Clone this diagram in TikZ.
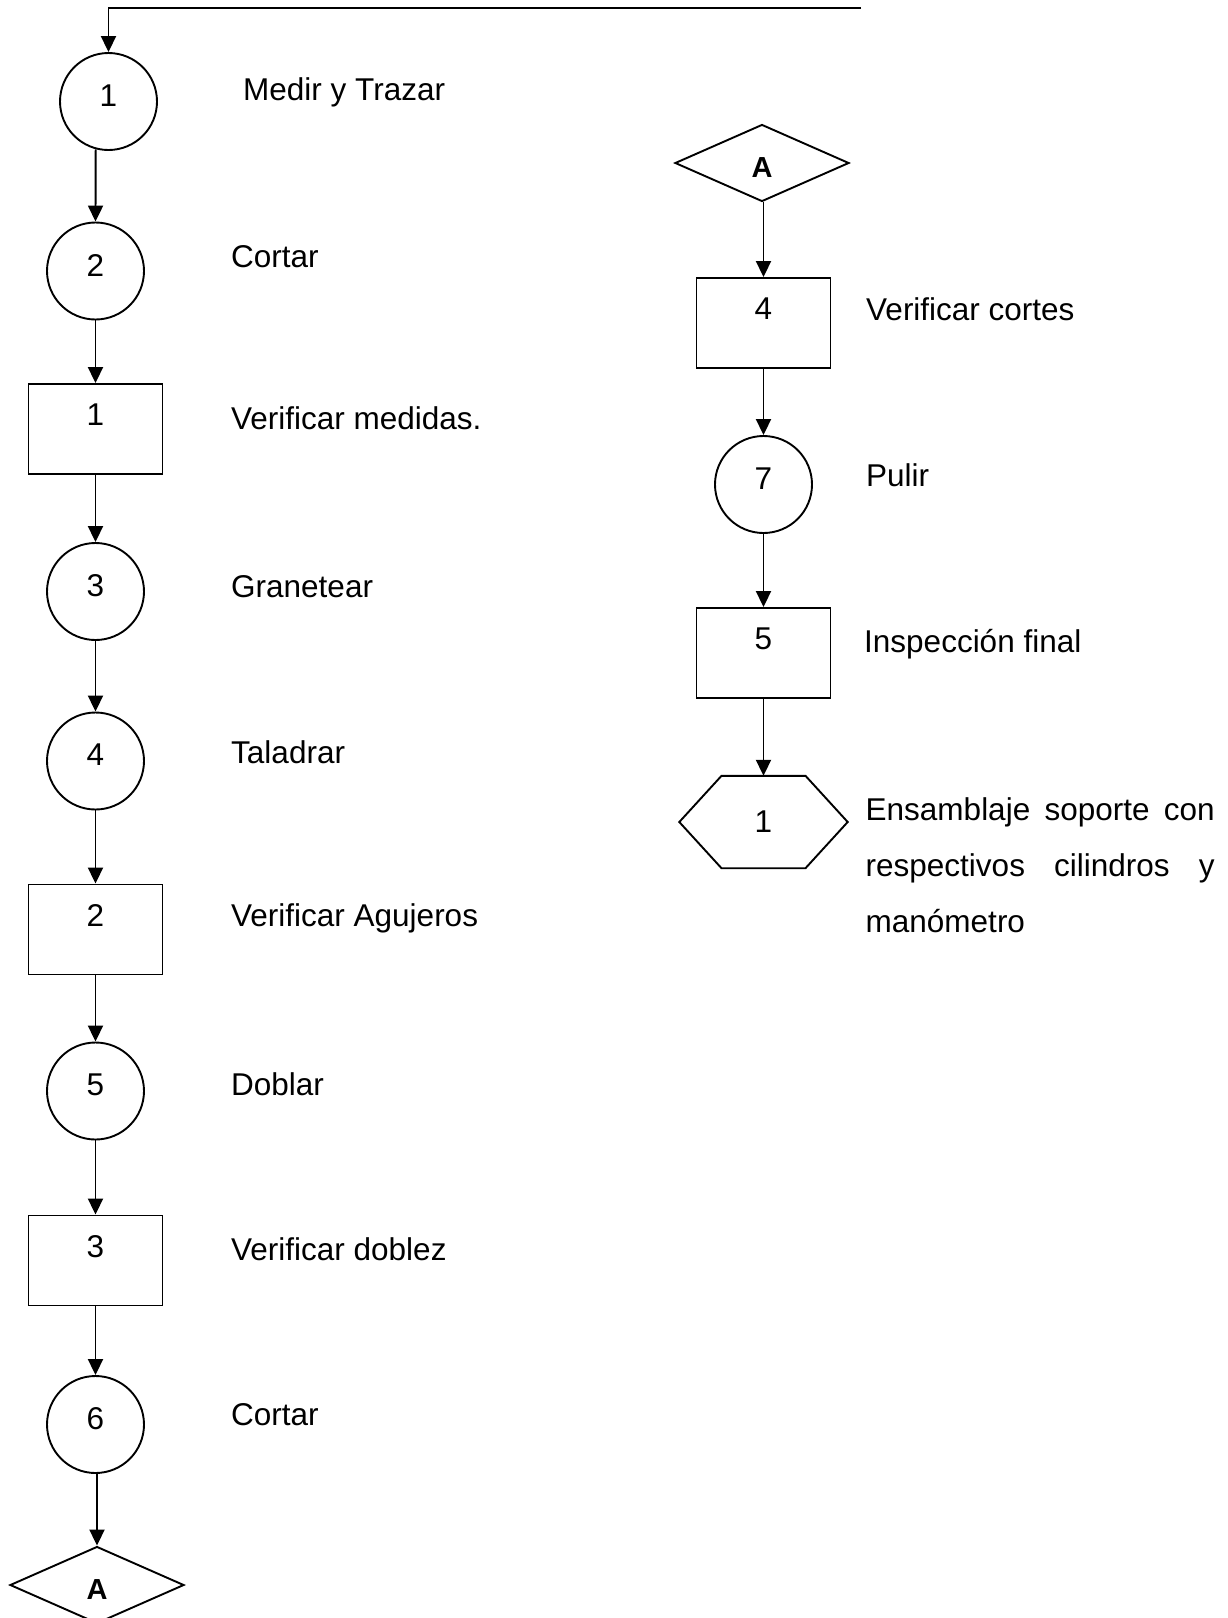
\documentclass[tikz,border=0pt]{standalone}
\usepackage{fontspec}
\setmainfont{Liberation Sans}
\usetikzlibrary{arrows.meta,shapes.geometric}
\begin{document}
\begin{tikzpicture}[x=1pt,y=-1pt,
  every node/.style={font=\fontsize{31.5pt}{38pt}\selectfont},
  ln/.style={line width=1.9pt},
  arr/.style={ln,-{Triangle[length=16pt,width=15pt]}},
  opc/.style={circle,draw,ln,minimum size=97pt,inner sep=0pt},
  insp/.style={rectangle,draw,ln,minimum width=134pt,minimum height=90pt,inner sep=0pt},
  conn/.style={diamond,draw,ln,minimum width=174pt,minimum height=77pt,inner sep=0pt},
  hexa/.style={minimum width=168pt,minimum height=92pt,inner sep=0pt},
  cnum/.style={anchor=center,yshift=6pt,inner sep=0pt},
  rnum/.style={anchor=center,yshift=14pt,inner sep=0pt},
  anum/.style={anchor=center,yshift=-5pt,inner sep=0pt,font=\fontsize{29pt}{34pt}\selectfont\bfseries},
  lbl/.style={anchor=base west,inner sep=0pt},
]
\useasboundingbox (0,0) rectangle (1227,1618);

% left column
\node[opc,label={[cnum]center:1}] (C1) at (108.5,101.5) {};
\node[opc,label={[cnum]center:2}] (C2) at (95.5,271) {};
\node[insp,label={[rnum]center:1}] (R1) at (95.5,429) {};
\node[opc,label={[cnum]center:3}] (C3) at (95.5,591.5) {};
\node[opc,label={[cnum]center:4}] (C4) at (95.5,761) {};
\node[insp,label={[rnum]center:2}] (R2) at (95.5,929.5) {};
\node[opc,label={[cnum]center:5}] (C5) at (95.5,1091) {};
\node[insp,label={[rnum]center:3}] (R3) at (95.5,1260.5) {};
\node[opc,label={[cnum]center:6}] (C6) at (95.5,1424.5) {};
\node[conn,label={[anum]center:A}] (DA2) at (97,1585) {};

% right column
\node[conn,label={[anum]center:A}] (DA1) at (762,163) {};
\node[insp,label={[rnum]center:4}] (R4) at (763.5,323) {};
\node[opc,label={[cnum]center:7}] (C7) at (763.5,484.5) {};
\node[insp,label={[rnum]center:5}] (R5) at (763.5,653) {};
\node[hexa] (H) at (763.5,822) {1};
\draw[ln] (H.west) -- ([xshift=-42pt]H.north) -- ([xshift=42pt]H.north) -- (H.east)
  -- ([xshift=42pt]H.south) -- ([xshift=-42pt]H.south) -- cycle;

% labels
\node[lbl] (t1) at (243,100) {Medir y Trazar};
\node[lbl] (t2) at (231,267) {Cortar};
\node[lbl] (t3) at (231,429) {Verificar medidas.};
\node[lbl] (t4) at (231,597) {Granetear};
\node[lbl] (t5) at (231,763) {Taladrar};
\node[lbl] (t6) at (231,926) {Verificar Agujeros};
\node[lbl] (t7) at (231,1095) {Doblar};
\node[lbl] (t8) at (231,1260) {Verificar doblez};
\node[lbl] (t9) at (231,1425) {Cortar};
\node[lbl] (t10) at (866,320) {Verificar cortes};
\node[lbl] (t11) at (866,486) {Pulir};
\node[lbl] (t12) at (864,652) {Inspección final};
\node[lbl] (t13) at (865.5,820) {\makebox[349pt][s]{Ensamblaje soporte con}};
\node[lbl] (t14) at (865.5,876) {\makebox[349pt][s]{respectivos cilindros y}};
\node[lbl] (t15) at (865.5,932) {manómetro};

% connectors
\coordinate (st) at (861,8);
\draw[arr] (st) -- (C1.north |- st) -- (C1.north);
\draw[arr] (C1.-105.5) -- (C2.north);
\draw[arr] (C2.south) -- (R1.north);
\draw[arr] (R1.south) -- (C3.north);
\draw[arr] (C3.south) -- (C4.north);
\draw[arr] (C4.south) -- (R2.north);
\draw[arr] (R2.south) -- (C5.north);
\draw[arr] (C5.south) -- (R3.north);
\draw[arr] (R3.south) -- (C6.north);
\draw[arr] (DA2.north |- C6.south) -- (DA2.north);
\draw[arr] (R4.north |- DA1.south) -- (R4.north);
\draw[arr] (R4.south) -- (C7.north);
\draw[arr] (C7.south) -- (R5.north);
\draw[arr] (R5.south) -- (H.north);
\end{tikzpicture}
\end{document}
